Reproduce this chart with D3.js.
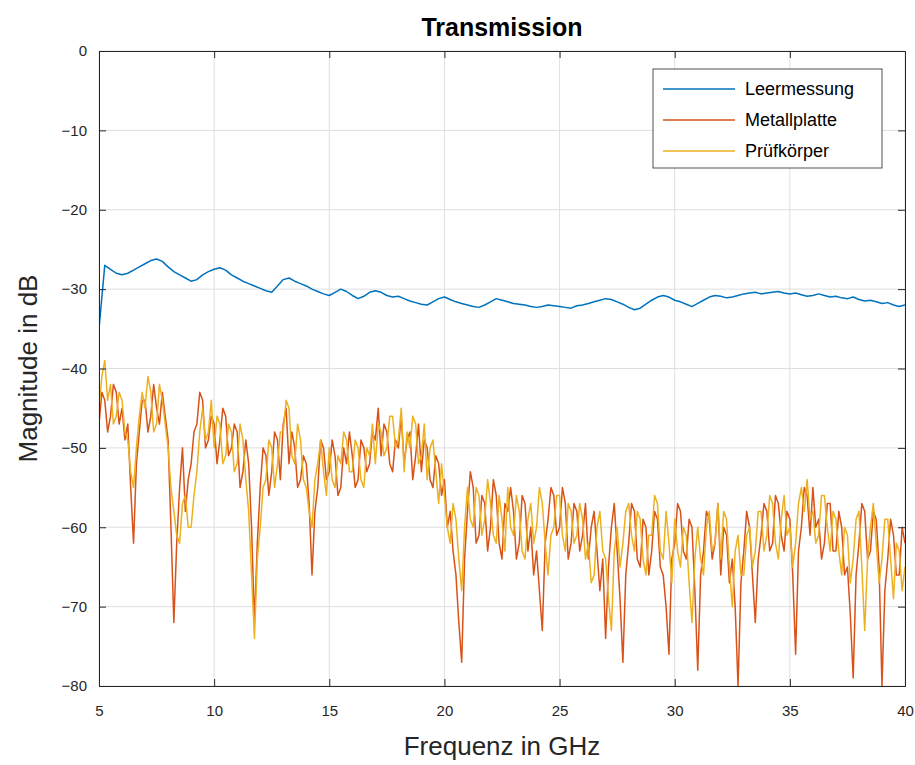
<!DOCTYPE html>
<html>
<head>
<meta charset="utf-8">
<script src="https://cdn.jsdelivr.net/npm/d3@7"></script>
<style>
  body { margin: 0; background: #fff; }
  svg { font-family: Arial, "Liberation Sans", sans-serif; }
</style>
</head>
<body>
<div id="chart"></div>
<script>
// Frequenzraster: Leermessung 0.25 GHz, Proben 0.125 GHz (5 ... 40 GHz)
const freqCoarse = d3.range(0, 141).map(i => 5 + i * 0.25);
const freqFine = d3.range(0, 281).map(i => 5 + i * 0.125);

const leermessung = [
  -35, -27, -27.5, -28,
  -28.2, -28, -27.6, -27.2,
  -26.8, -26.4, -26.2, -26.5,
  -27.2, -27.8, -28.2, -28.6,
  -29, -28.8, -28.2, -27.8,
  -27.5, -27.3, -27.6, -28.2,
  -28.6, -29, -29.3, -29.6,
  -29.9, -30.2, -30.4, -29.6,
  -28.8, -28.6, -29, -29.3,
  -29.6, -30, -30.3, -30.6,
  -30.8, -30.4, -30, -30.3,
  -30.8, -31.2, -30.9, -30.4,
  -30.2, -30.4, -30.8, -31,
  -30.9, -31.2, -31.5, -31.7,
  -31.9, -32, -31.6, -31.2,
  -31, -31.3, -31.6, -31.8,
  -32, -32.2, -32.3, -32,
  -31.6, -31.2, -31.4, -31.6,
  -31.8, -31.9, -32, -32.2,
  -32.3, -32.2, -32, -32.1,
  -32.2, -32.3, -32.4, -32.1,
  -32, -31.8, -31.6, -31.4,
  -31.2, -31.3, -31.6, -31.9,
  -32.3, -32.6, -32.4, -31.9,
  -31.4, -31, -30.8, -31,
  -31.4, -31.6, -31.9, -32.2,
  -31.8, -31.4, -31, -30.8,
  -30.9, -31.1, -31, -30.8,
  -30.6, -30.5, -30.4, -30.6,
  -30.5, -30.4, -30.3, -30.5,
  -30.6, -30.5, -30.7, -30.9,
  -30.8, -30.6, -30.8, -31,
  -30.9, -31.1, -31.2, -31,
  -31.3, -31.5, -31.4, -31.6,
  -31.8, -31.7, -32, -32.2,
  -32
];

const metallplatte = [
  -47, -43, -44, -48, -46, -42, -43, -47,
  -45, -49, -47, -55, -62, -52, -48, -44,
  -44, -48, -46, -42, -45, -47, -43, -46,
  -49, -60, -72, -62, -55, -50, -58, -54,
  -52, -48, -47, -43, -44, -50, -49, -46,
  -47, -52, -49, -45, -46, -51, -50, -47,
  -48, -55, -53, -49, -52, -60, -72, -62,
  -55, -50, -51, -56, -53, -48, -49, -54,
  -47, -45, -52, -48, -50, -55, -54, -51,
  -52, -57, -66, -58, -55, -49, -50, -54,
  -53, -49, -51, -56, -55, -50, -52, -48,
  -51, -55, -54, -49, -50, -53, -52, -48,
  -49, -45, -51, -47, -48, -52, -53, -49,
  -50, -46, -52, -49, -48, -54, -51, -47,
  -53, -49, -50, -54, -55, -51, -52, -56,
  -54, -60, -58, -63, -66, -72, -77, -64,
  -58, -53, -55, -62, -61, -56, -57, -63,
  -60, -54, -56, -62, -64, -57, -58, -55,
  -58, -64, -62, -56, -57, -63, -60, -66,
  -63, -68, -73, -62, -59, -55, -56, -61,
  -60, -55, -57, -64, -62, -57, -58, -63,
  -61, -57, -64, -60, -58, -63, -68, -64,
  -74, -65, -60, -57, -63, -69, -77, -66,
  -62, -57, -58, -64, -65, -59, -60, -66,
  -63, -58, -59, -65, -66, -70, -76, -64,
  -62, -57, -58, -63, -64, -59, -60, -68,
  -78, -66, -63, -58, -59, -64, -62, -57,
  -66, -60, -61, -67, -64, -70, -80, -67,
  -63, -58, -60, -66, -72, -64, -61, -57,
  -58, -63, -62, -56, -57, -61, -63, -58,
  -59, -66, -76, -63, -60, -55, -56, -61,
  -55, -60, -59, -64, -62, -57, -57, -63,
  -63, -58, -60, -66, -65, -71, -79, -66,
  -62, -57, -58, -64, -63, -58, -59, -65,
  -80, -68, -64, -59, -61, -66, -66, -60,
  -62
];

const pruefkoerper = [
  -45, -41, -39, -44, -42, -47, -46, -43,
  -44, -48, -49, -53, -55, -50, -46, -43,
  -45, -41, -43, -48, -47, -42, -44, -47,
  -50, -55, -58, -61, -62, -57, -56, -60,
  -60, -56, -53, -48, -45, -49, -48, -44,
  -50, -46, -47, -52, -51, -47, -48, -53,
  -52, -47, -49, -54, -58, -66, -74, -64,
  -60, -55, -54, -49, -50, -55, -52, -48,
  -48, -44, -45, -51, -52, -47, -49, -54,
  -55, -58, -60, -54, -52, -49, -53, -56,
  -50, -54, -55, -51, -52, -48, -49, -53,
  -53, -49, -50, -54, -55, -50, -51, -47,
  -52, -47, -48, -51, -50, -46, -46, -50,
  -49, -45, -53, -48, -50, -46, -47, -52,
  -51, -47, -54, -50, -49, -53, -57, -52,
  -56, -60, -62, -57, -59, -64, -68, -60,
  -55, -59, -60, -55, -56, -61, -59, -54,
  -57, -61, -62, -56, -59, -63, -55, -60,
  -61, -56, -58, -63, -64, -59, -57, -62,
  -60, -55, -57, -62, -66, -61, -60, -56,
  -56, -61, -63, -57, -58, -62, -61, -57,
  -59, -64, -62, -67, -66, -60, -58, -63,
  -64, -69, -73, -63, -60, -65, -62, -58,
  -57, -61, -63, -58, -59, -64, -66, -61,
  -61, -56, -57, -63, -64, -58, -62, -67,
  -59, -63, -65, -60, -61, -67, -72, -64,
  -60, -64, -66, -60, -58, -63, -62, -57,
  -64, -58, -59, -65, -70, -63, -61, -66,
  -66, -61, -60, -65, -63, -58, -58, -63,
  -61, -56, -57, -62, -64, -59, -56, -61,
  -60, -65, -62, -57, -55, -58, -54, -59,
  -58, -62, -61, -56, -56, -60, -63, -58,
  -59, -63, -66, -60, -61, -67, -64, -59,
  -58, -65, -73, -64, -60, -57, -62, -67,
  -64, -59, -59, -64, -69, -62, -63, -68,
  -65
];

const seriesNames = ['Leermessung', 'Metallplatte', 'Prüfkörper'];
const seriesColors = ['#0072BD', '#D95319', '#EDB120'];
const xTicks = [5, 10, 15, 20, 25, 30, 35, 40];
const yTicks = [0, -10, -20, -30, -40, -50, -60, -70, -80];

const width = 915, height = 765;
const margin = { top: 51, right: 10, bottom: 79, left: 99 };
const innerW = width - margin.left - margin.right;
const innerH = height - margin.top - margin.bottom;

const svg = d3.select('#chart')
  .append('svg')
    .attr('width', width)
    .attr('height', height);

svg.append('defs').append('clipPath').attr('id', 'clip')
  .append('rect').attr('width', innerW).attr('height', innerH);

const x = d3.scaleLinear().domain([5, 40]).range([0, innerW]);
const y = d3.scaleLinear().domain([-80, 0]).range([innerH, 0]);

const g = svg.append('g')
  .attr('transform', `translate(${margin.left}, ${margin.top})`);

// Gitter
g.append('g')
  .selectAll('line')
  .data(xTicks)
  .enter().append('line')
    .attr('x1', d => x(d)).attr('x2', d => x(d))
    .attr('y1', 0).attr('y2', innerH)
    .attr('stroke', '#dfdfdf');

g.append('g')
  .selectAll('line')
  .data(yTicks)
  .enter().append('line')
    .attr('x1', 0).attr('x2', innerW)
    .attr('y1', d => y(d)).attr('y2', d => y(d))
    .attr('stroke', '#dfdfdf');

// Daten
const series = [
  { values: leermessung, freq: freqCoarse },
  { values: metallplatte, freq: freqFine },
  { values: pruefkoerper, freq: freqFine },
];

const line = d3.line()
  .x(d => x(d[0]))
  .y(d => y(d[1]));

g.append('g')
  .attr('clip-path', 'url(#clip)')
  .selectAll('path')
  .data(series)
  .enter().append('path')
    .attr('d', s => line(s.values.map((v, i) => [s.freq[i], v])))
    .attr('fill', 'none')
    .attr('stroke', (d, i) => seriesColors[i])
    .attr('stroke-width', 1.5)
    .attr('stroke-linejoin', 'round');

// Achsen
const xAxis = d3.axisBottom(x).tickValues(xTicks).tickSize(-7).tickPadding(19);
const yAxis = d3.axisLeft(y).tickValues(yTicks).tickSize(-7).tickPadding(12)
  .tickFormat(d => d === 0 ? '0' : '\u2212' + Math.abs(d));

g.append('g')
  .attr('transform', `translate(0, ${innerH})`)
  .call(xAxis);
g.append('g').call(yAxis);

g.append('g').call(d3.axisTop(x).tickValues(xTicks).tickSize(-7).tickFormat(''));
g.append('g').attr('transform', `translate(${innerW}, 0)`)
  .call(d3.axisRight(y).tickValues(yTicks).tickSize(-7).tickFormat(''));

g.selectAll('.domain').attr('stroke', '#262626');
g.selectAll('.tick line').attr('stroke', '#262626');
g.selectAll('.tick text')
  .attr('fill', '#262626')
  .attr('font-size', 15);

// Beschriftung
svg.append('text')
  .attr('x', margin.left + innerW / 2)
  .attr('y', 36)
  .attr('text-anchor', 'middle')
  .attr('font-size', 25)
  .attr('font-weight', 'bold')
  .attr('fill', '#000')
  .text('Transmission');

svg.append('text')
  .attr('x', margin.left + innerW / 2)
  .attr('y', 755)
  .attr('text-anchor', 'middle')
  .attr('font-size', 26)
  .attr('fill', '#262626')
  .text('Frequenz in GHz');

svg.append('text')
  .attr('transform', `translate(37, ${margin.top + innerH / 2}) rotate(-90)`)
  .attr('text-anchor', 'middle')
  .attr('font-size', 26)
  .attr('fill', '#262626')
  .text('Magnitude in dB');

// Legende
const legend = svg.append('g').attr('transform', 'translate(653, 69)');

legend.append('rect')
  .attr('width', 229)
  .attr('height', 99)
  .attr('fill', '#fff')
  .attr('stroke', '#262626')
  .attr('stroke-width', 0.8);

const items = legend.selectAll('g')
  .data(seriesNames)
  .enter().append('g')
    .attr('transform', (d, i) => `translate(0, ${20 + i * 31})`);

items.append('line')
  .attr('x1', 10).attr('x2', 82)
  .attr('stroke', (d, i) => seriesColors[i])
  .attr('stroke-width', 1.5);

items.append('text')
  .attr('x', 92)
  .attr('dy', '0.35em')
  .attr('font-size', 18)
  .attr('fill', '#000')
  .text(d => d);
</script>
</body>
</html>
